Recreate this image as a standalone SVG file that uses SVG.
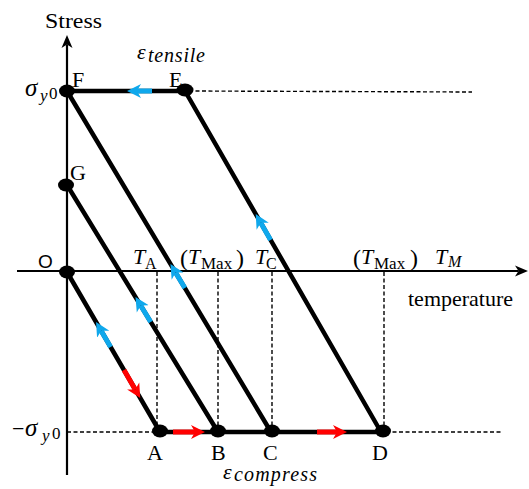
<svg xmlns="http://www.w3.org/2000/svg" width="529" height="489" viewBox="0 0 529 489">
  <style>
    .axis { stroke: #000; stroke-width: 2.2; fill: none; }
    .thick { stroke: #000; stroke-width: 4.5; fill: none; stroke-linecap: round; }
    .dash { stroke: #000; stroke-width: 1.4; stroke-dasharray: 4 2.5; fill: none; }
    .blue { stroke: #0FA8EC; stroke-width: 5; fill: none; marker-end: url(#headBlue); }
    .red { stroke: #FF0000; stroke-width: 5; fill: none; marker-end: url(#headRed); }
    .dot { fill: #000; }
    text { font-family: "Liberation Serif", "DejaVu Serif", serif; fill: #000; }
    .lbl { font-size: 22px; }
    .it { font-style: italic; }
    .sans { font-family: "Liberation Sans", Arial, sans-serif; }
  </style>
  <defs>
    <marker id="axisHead" markerUnits="userSpaceOnUse" markerWidth="14" markerHeight="12" refX="3.5" refY="5.5" orient="auto" viewBox="0 0 14 11">
      <path d="M0,0 L13,5.5 L0,11 L3.5,5.5 z" fill="#000"/>
    </marker>
    <marker id="headBlue" markerUnits="userSpaceOnUse" markerWidth="15" markerHeight="15" refX="4" refY="7" orient="auto" viewBox="0 0 15 14">
      <path d="M0,0 L14,7 L0,14 L4,7 z" fill="#0FA8EC"/>
    </marker>
    <marker id="headRed" markerUnits="userSpaceOnUse" markerWidth="15" markerHeight="15" refX="4" refY="7" orient="auto" viewBox="0 0 15 14">
      <path d="M0,0 L14,7 L0,14 L4,7 z" fill="#FF0000"/>
    </marker>
  </defs>

  <g id="axes">
    <line class="axis" x1="67" y1="475" x2="67" y2="44.5" marker-end="url(#axisHead)"/>
    <line class="axis" x1="17" y1="271" x2="518.5" y2="271" marker-end="url(#axisHead)"/>
    <text x="45" y="28" font-size="22" textLength="57" lengthAdjust="spacingAndGlyphs">Stress</text>
    <text x="408" y="306" font-size="22">temperature</text>
  </g>

  <g id="guides">
    <line class="dash" x1="189" y1="91" x2="472" y2="92"/>
    <line class="dash" x1="67" y1="432" x2="156" y2="432"/>
    <line class="dash" x1="386" y1="432" x2="503" y2="432"/>
    <line class="dash" x1="157" y1="272" x2="157" y2="428"/>
    <line class="dash" x1="218" y1="272" x2="218" y2="428"/>
    <line class="dash" x1="272" y1="272" x2="272" y2="428"/>
    <line class="dash" x1="384" y1="272" x2="384" y2="428"/>
  </g>

  <g id="connectors">
    <line class="thick" x1="67" y1="91" x2="185" y2="91"/>
    <line class="thick" x1="67" y1="272" x2="160" y2="432"/>
    <line class="thick" x1="67" y1="185" x2="218" y2="432"/>
    <line class="thick" x1="67" y1="91" x2="271" y2="432"/>
    <line class="thick" x1="185" y1="91" x2="381" y2="432"/>
    <line class="thick" x1="160" y1="432" x2="381" y2="432"/>
    <line class="blue" x1="152" y1="91" x2="137" y2="91"/>
    <line class="blue" x1="110.6" y1="347" x2="101.1" y2="330.7"/>
    <line class="red" x1="124" y1="370" x2="135.2" y2="389.4"/>
    <line class="blue" x1="150.7" y1="322" x2="140.7" y2="305.5"/>
    <line class="blue" x1="184.9" y1="288" x2="175.6" y2="272.6"/>
    <line class="blue" x1="270.6" y1="240" x2="260.7" y2="222.7"/>
    <line class="red" x1="173" y1="432" x2="195" y2="432"/>
    <line class="red" x1="317" y1="432" x2="337" y2="432"/>
  </g>

  <g id="node-F">
    <ellipse class="dot" cx="67" cy="91" rx="8" ry="6.5"/>
    <text class="lbl" x="72" y="87">F</text>
  </g>
  <g id="node-E">
    <ellipse class="dot" cx="185" cy="90" rx="8.5" ry="6.5"/>
    <text class="lbl" x="169" y="87">E</text>
  </g>
  <g id="node-G">
    <ellipse class="dot" cx="66" cy="185" rx="8" ry="6.5"/>
    <text class="lbl" x="70" y="180">G</text>
  </g>
  <g id="node-O">
    <ellipse class="dot" cx="67" cy="272" rx="8" ry="6.5"/>
    <text class="sans" x="38" y="268" font-size="19">O</text>
  </g>
  <g id="node-A">
    <ellipse class="dot" cx="160" cy="431" rx="8" ry="6.5"/>
    <text class="lbl" x="147" y="460">A</text>
  </g>
  <g id="node-B">
    <ellipse class="dot" cx="218" cy="431" rx="8" ry="6.5"/>
    <text class="lbl" x="211" y="460">B</text>
  </g>
  <g id="node-C">
    <ellipse class="dot" cx="272" cy="431" rx="8" ry="6.5"/>
    <text class="lbl" x="263" y="460">C</text>
  </g>
  <g id="node-D">
    <ellipse class="dot" cx="383" cy="431" rx="8" ry="6.5"/>
    <text class="lbl" x="372" y="460">D</text>
  </g>

  <g id="labels">
    <text x="137" y="59" font-size="22" class="it">ε</text>
    <text x="148" y="62" font-size="20" class="it" textLength="57" lengthAdjust="spacing">tensile</text>

    <text x="25" y="96" font-size="25" class="it">σ</text>
    <text x="40" y="101" font-size="17" class="it">y</text>
    <text x="49" y="99" font-size="17">0</text>

    <text x="12" y="436" font-size="22">−</text>
    <text x="25" y="436" font-size="25" class="it">σ</text>
    <text x="42" y="441" font-size="17" class="it">y</text>
    <text x="52" y="439" font-size="17">0</text>

    <text x="133" y="264" font-size="22" class="it">T</text>
    <text x="145" y="269" font-size="16">A</text>

    <text x="180" y="266" font-size="24">(</text>
    <text x="188" y="264" font-size="22" class="it">T</text>
    <text x="201" y="269" font-size="17">Max</text>
    <text x="236" y="266" font-size="24">)</text>

    <text x="255" y="264" font-size="22" class="it">T</text>
    <text x="266" y="269" font-size="16">C</text>

    <text x="353" y="266" font-size="24">(</text>
    <text x="361" y="264" font-size="22" class="it">T</text>
    <text x="374" y="269" font-size="17">Max</text>
    <text x="410" y="266" font-size="24">)</text>

    <text x="435" y="264" font-size="22" class="it">T</text>
    <text x="448" y="267" font-size="16" class="it">M</text>

    <text x="223" y="479" font-size="22" class="it">ε</text>
    <text x="234" y="481" font-size="20" class="it" textLength="83" lengthAdjust="spacing">compress</text>
  </g>
</svg>
